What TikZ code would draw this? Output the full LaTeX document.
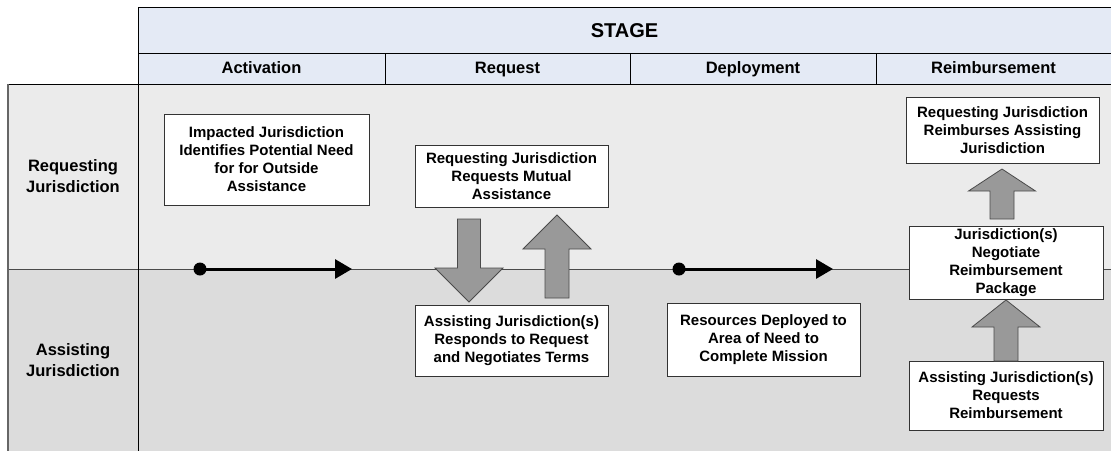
\documentclass[tikz,border=0pt]{standalone}
\usepackage{fontspec}
\setmainfont{Liberation Sans}
\usetikzlibrary{arrows.meta}
\definecolor{hdrfill}{HTML}{E4EAF5}
\definecolor{lanetop}{HTML}{EBEBEB}
\definecolor{lanebot}{HTML}{DCDCDC}
\definecolor{arrfill}{HTML}{999999}
\definecolor{arrline}{HTML}{4A4A4A}
\definecolor{boxline}{HTML}{333333}
\tikzset{
  hdr/.style={draw=black, line width=0.9pt, fill=hdrfill},
  hdrtext/.style={font=\bfseries\fontsize{16.5}{19}\selectfont, text height=12pt, text depth=3.5pt},
  stagetext/.style={font=\bfseries\fontsize{20}{23}\selectfont, text height=14.5pt, text depth=0pt},
  lanelabel/.style={align=center, font=\bfseries\fontsize{16.5}{20.5}\selectfont},
  stepbox/.style={draw=boxline, line width=0.9pt, fill=white, align=center, inner sep=0pt,
    font=\bfseries\fontsize{15}{18}\selectfont},
  blockarrow/.style={draw=arrline, line width=0.8pt, fill=arrfill, line join=miter},
  timeline/.style={line width=3pt, -{Triangle[length=17pt,width=19pt]}},
}
\begin{document}
\begin{tikzpicture}[x=1pt,y=-1pt]
\useasboundingbox (0,0) rectangle (1111,451);
% lanes
\fill[lanetop] (8,84) rectangle (1111,269);
\fill[lanebot] (8,269) rectangle (1111,451);
\draw[arrline, line width=0.8pt] (8,269) -- (1111,269);
\draw[black, line width=0.9pt] (8,84) -- (1111,84);
\draw[black, line width=0.9pt] (138,84) -- (138,451);
\draw[gray!80!black, line width=1.4pt] (8,84) -- (8,451);
% header
\draw[hdr] (138,7) rectangle (1111,53);
\draw[hdr] (138,53) rectangle (385,84);
\draw[hdr] (385,53) rectangle (630,84);
\draw[hdr] (630,53) rectangle (876,84);
\draw[hdr] (876,53) rectangle (1111,84);
\node[stagetext] (stage) at (624.5,30) {STAGE};
\node[hdrtext] (hact) at (261.5,69.5) {Activation};
\node[hdrtext] (hreq) at (507.5,69.5) {Request};
\node[hdrtext] (hdep) at (753,69.5) {Deployment};
\node[hdrtext] (hrei) at (993.5,69.5) {Reimbursement};
% lane labels
\node[lanelabel] (lreq) at (73,176) {Requesting\\Jurisdiction};
\node[lanelabel] (lass) at (73,360) {Assisting\\Jurisdiction};
% boxes
\node[stepbox, minimum width=205pt, minimum height=91pt] (impact) at (266.5,159.5)
  {Impacted Jurisdiction\\Identifies Potential Need\\for for Outside\\Assistance};
\node[stepbox, minimum width=193pt, minimum height=62pt] (reqma) at (511.5,176)
  {Requesting Jurisdiction\\Requests Mutual\\Assistance};
\node[stepbox, minimum width=193pt, minimum height=71pt] (resp) at (511.5,340.5)
  {Assisting Jurisdiction(s)\\Responds to Request\\and Negotiates Terms};
\node[stepbox, minimum width=193pt, minimum height=73pt] (deploy) at (763.5,339.5)
  {Resources Deployed to\\Area of Need to\\Complete Mission};
\node[stepbox, minimum width=193pt, minimum height=66pt] (reimb) at (1002.5,130)
  {Requesting Jurisdiction\\Reimburses Assisting\\Jurisdiction};
\node[stepbox, minimum width=194pt, minimum height=73pt] (nego) at (1006,262.5)
  {Jurisdiction(s)\\Negotiate\\Reimbursement\\Package};
\node[stepbox, minimum width=194pt, minimum height=69pt] (reqre) at (1006,395.5)
  {Assisting Jurisdiction(s)\\Requests\\Reimbursement};
% timeline arrows
\coordinate (t1s) at (200,269);
\coordinate (t1e) at (352,269);
\coordinate (t2s) at (679,269);
\coordinate (t2e) at (833,269);
\draw[timeline] (t1s) -- (t1e);
\fill (t1s) circle (6.5pt);
\draw[timeline] (t2s) -- (t2e);
\fill (t2s) circle (6.5pt);
% block arrows
% down arrow: request -> respond
\draw[blockarrow] (457.5,219) -- (480.5,219) -- (480.5,268) -- (503,268) -- (469,302)
  -- (435,268) -- (457.5,268) -- cycle;
% up arrow: respond -> request
\draw[blockarrow] (545,298) -- (569,298) -- (569,249) -- (591,249) -- (557,215)
  -- (523,249) -- (545,249) -- cycle;
% up arrow: negotiate -> reimburse
\draw[blockarrow] (990,219) -- (1014,219) -- (1014,191) -- (1035.5,191) -- (1002,169)
  -- (968.5,191) -- (990,191) -- cycle;
% up arrow: requests reimbursement -> negotiate
\draw[blockarrow] (994,361) -- (1018,361) -- (1018,327) -- (1040,327) -- (1006,300)
  -- (972,327) -- (994,327) -- cycle;
\end{tikzpicture}
\end{document}
